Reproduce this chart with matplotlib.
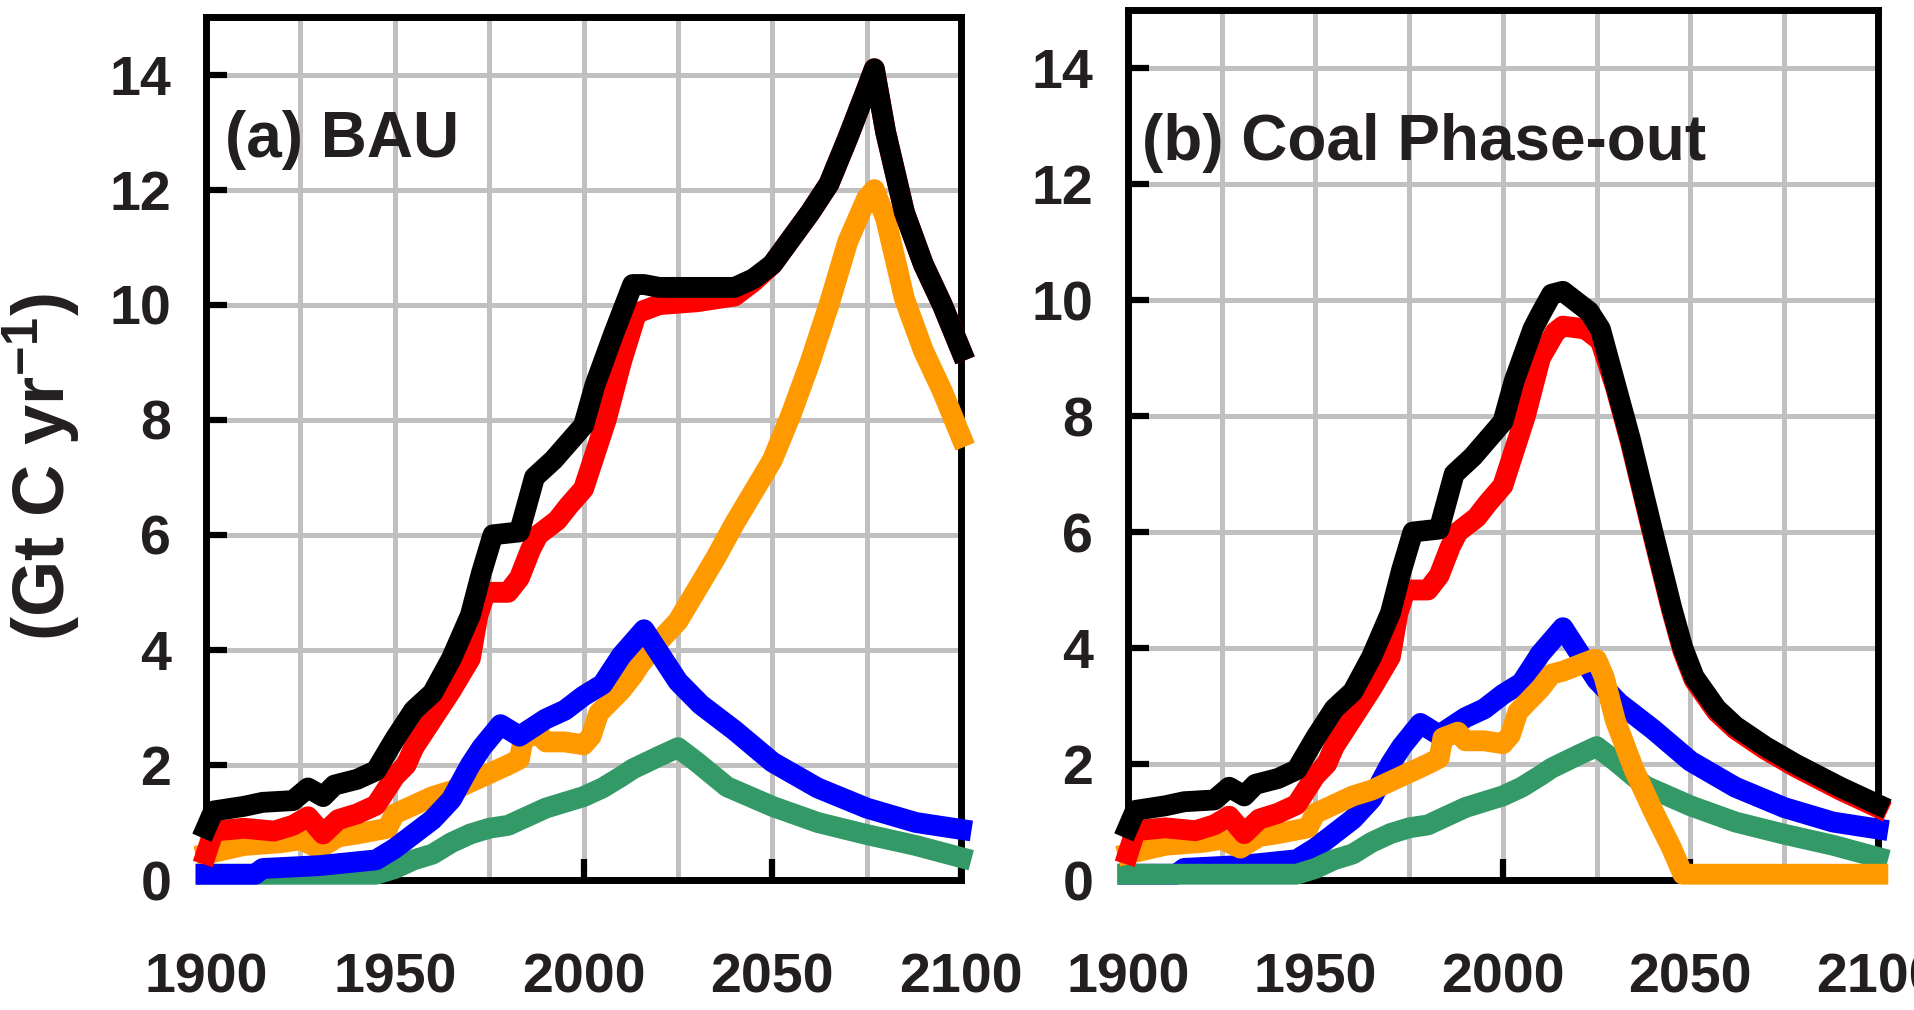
import matplotlib
matplotlib.use("Agg")
import matplotlib.pyplot as plt
from matplotlib.ticker import MultipleLocator

plt.rcParams['font.family'] = ['Liberation Sans', 'DejaVu Sans']
plt.rcParams['mathtext.fontset'] = 'custom'
plt.rcParams['mathtext.rm'] = 'Liberation Sans:bold'
plt.rcParams['mathtext.default'] = 'rm'

# ---- data (Gt C / yr) ----
# historical part, shared by both scenarios
hist_total_years = [1900, 1902, 1910, 1915, 1923, 1927, 1931, 1934, 1940, 1945, 1950, 1955,
                    1960, 1965, 1970, 1973, 1976, 1983, 1987, 1992, 1996, 2000, 2003, 2008]
hist_total = [0.9, 1.2, 1.28, 1.35, 1.38, 1.6, 1.45, 1.65, 1.75, 1.9, 2.45, 2.95,
              3.25, 3.85, 4.6, 5.35, 6.0, 6.05, 7.0, 7.3, 7.6, 7.9, 8.6, 9.5]

hist_fossil_years = [1900, 1902, 1910, 1918, 1923, 1927, 1931, 1935, 1940, 1945, 1950, 1953, 1955,
                     1960, 1965, 1970, 1972, 1974, 1980, 1983, 1986, 1988, 1993, 1996, 2000,
                     2003, 2006, 2010]
hist_fossil = [0.45, 0.85, 0.9, 0.85, 0.95, 1.1, 0.8, 1.05, 1.15, 1.3, 1.8, 2.0, 2.3,
               2.8, 3.3, 3.85, 4.6, 5.0, 5.0, 5.25, 5.75, 6.0, 6.25, 6.5, 6.8,
               7.4, 8.0, 9.0]

hist_coal_years = [1900, 1910, 1920, 1925, 1930, 1935, 1940, 1948, 1950, 1955, 1960, 1965, 1970,
                   1975, 1980, 1983, 1984, 1988, 1990, 1995, 2000, 2002, 2004, 2010, 2013]
hist_coal = [0.45, 0.6, 0.65, 0.7, 0.55, 0.75, 0.8, 0.9, 1.15, 1.3, 1.45, 1.55, 1.7,
             1.85, 2.0, 2.1, 2.45, 2.55, 2.4, 2.4, 2.35, 2.5, 2.9, 3.3, 3.55]

oil_years = [1900, 1913, 1915, 1930, 1945, 1950, 1955, 1960, 1965, 1970, 1973, 1978, 1983,
             1990, 1995, 2000, 2005, 2010, 2016, 2020, 2025, 2031, 2040, 2050, 2062, 2075,
             2088, 2100]
oil = [0.1, 0.1, 0.2, 0.25, 0.35, 0.55, 0.8, 1.05, 1.4, 2.0, 2.3, 2.7, 2.5,
       2.8, 2.95, 3.2, 3.4, 3.9, 4.35, 3.95, 3.45, 3.05, 2.6, 2.05, 1.6, 1.25,
       1.0, 0.88]

gas_years = [1900, 1945, 1950, 1955, 1960, 1965, 1970, 1975, 1980, 1985, 1990, 1995, 2000,
             2005, 2010, 2013, 2020, 2025, 2030, 2038, 2050, 2062, 2075, 2088, 2100]
gas = [0.1, 0.1, 0.2, 0.35, 0.45, 0.65, 0.8, 0.9, 0.95, 1.1, 1.25, 1.35, 1.45,
       1.6, 1.8, 1.93, 2.15, 2.3, 2.05, 1.62, 1.28, 1.0, 0.79, 0.6, 0.39]

# (a) BAU projections
bau_total_years = [2013, 2016, 2020, 2030, 2040, 2045, 2050, 2055, 2060, 2065, 2070, 2075,
                   2077, 2080, 2085, 2090, 2095, 2100]
bau_total = [10.35, 10.35, 10.3, 10.3, 10.3, 10.45, 10.7, 11.15, 11.6, 12.1, 12.9, 13.75,
             14.1, 13.0, 11.6, 10.7, 10.0, 9.2]
bau_fossil_years = [2014, 2020, 2030, 2040, 2045, 2050, 2055, 2060, 2065, 2070, 2075,
                    2077, 2080, 2085, 2090, 2095, 2100]
bau_fossil = [9.85, 10.0, 10.05, 10.15, 10.4, 10.7, 11.15, 11.6, 12.1, 12.9, 13.75,
              14.1, 13.0, 11.6, 10.7, 10.0, 9.2]
bau_coal_years = [2015, 2020, 2025, 2030, 2035, 2040, 2045, 2050, 2055, 2060, 2065, 2070,
                  2075, 2077, 2080, 2085, 2090, 2095, 2100]
bau_coal = [3.75, 4.15, 4.5, 5.05, 5.6, 6.2, 6.75, 7.3, 8.1, 9.0, 10.0, 11.1,
            11.85, 12.0, 11.5, 10.1, 9.2, 8.5, 7.7]

# (b) coal phase-out projections
cpo_total_years = [2010, 2013, 2016, 2020, 2023, 2026, 2030, 2034, 2040, 2045, 2048, 2051,
                   2057, 2062, 2070, 2078, 2090, 2100]
cpo_total = [9.75, 10.1, 10.15, 9.95, 9.8, 9.5, 8.55, 7.6, 6.0, 4.7, 4.0, 3.5,
             2.95, 2.65, 2.3, 2.0, 1.6, 1.3]
cpo_fossil_years = [2014, 2016, 2022, 2024, 2026, 2030, 2034, 2040, 2045, 2048, 2051,
                    2057, 2062, 2070, 2078, 2090, 2100]
cpo_fossil = [9.45, 9.55, 9.5, 9.4, 9.3, 8.5, 7.55, 5.95, 4.65, 3.95, 3.45,
              2.9, 2.6, 2.25, 1.95, 1.55, 1.25]
cpo_coal_years = [2016, 2020, 2024, 2025, 2027, 2030, 2035, 2040, 2045, 2048, 2100]
cpo_coal = [3.6, 3.7, 3.8, 3.8, 3.5, 2.75, 1.9, 1.2, 0.55, 0.1, 0.1]

# colours
c_total, c_fossil, c_coal, c_oil, c_gas = '#000000', '#ff0000', '#ff9900', '#0000ff', '#339966'
txt_col = '#231f20'
LW = 15


def draw_panel(ax, total, fossil, coal, label, label_x, label_y, gas_on_top=False):
    kw = dict(lw=LW, clip_on=False, zorder=3)
    if gas_on_top:
        ax.plot(oil_years, oil, color=c_oil, **kw)
        ax.plot(gas_years, gas, color=c_gas, **kw)
        ax.plot(coal[0], coal[1], color=c_coal, **kw)
    else:
        ax.plot(gas_years, gas, color=c_gas, **kw)
        ax.plot(coal[0], coal[1], color=c_coal, **kw)
        ax.plot(oil_years, oil, color=c_oil, **kw)
    ax.plot(fossil[0], fossil[1], color=c_fossil, **kw)
    ax.plot(total[0], total[1], color=c_total, **kw)

    ax.set_xlim(1900, 2100)
    ax.set_ylim(0, 15)
    ax.xaxis.set_major_locator(MultipleLocator(50))
    ax.xaxis.set_minor_locator(MultipleLocator(25))
    ax.yaxis.set_major_locator(MultipleLocator(2))
    ax.grid(True, axis='x', which='both', color='#c0c0c0', lw=3.6)
    ax.grid(True, axis='y', which='major', color='#c0c0c0', lw=3.6)
    ax.set_axisbelow(True)
    ax.tick_params(which='major', direction='in', length=15, width=4.5, color='black',
                   labelsize=40, labelcolor=txt_col, top=False, right=False)
    ax.tick_params(axis='x', which='major', pad=52)
    ax.tick_params(axis='y', which='major', pad=25)
    ax.tick_params(which='minor', length=0)
    for lab in ax.get_xticklabels() + ax.get_yticklabels():
        lab.set_fontweight('bold')
    for sp in ax.spines.values():
        sp.set_linewidth(5)
    ax.text(label_x, label_y, label, transform=ax.transAxes, fontsize=46, fontweight='bold',
            color=txt_col, ha='left', va='baseline', zorder=5)


fig = plt.figure(figsize=(19.15, 10.10), dpi=100)
ax_a = fig.add_axes([0.1076, 0.1287, 0.3943, 0.8545])
ax_b = fig.add_axes([0.5890, 0.1287, 0.3916, 0.8614])

draw_panel(ax_a,
           (hist_total_years + bau_total_years, hist_total + bau_total),
           (hist_fossil_years + bau_fossil_years, hist_fossil + bau_fossil),
           (hist_coal_years + bau_coal_years, hist_coal + bau_coal),
           '(a) BAU', 0.025, 0.838)
draw_panel(ax_b,
           (hist_total_years + cpo_total_years, hist_total + cpo_total),
           (hist_fossil_years + cpo_fossil_years, hist_fossil + cpo_fossil),
           (hist_coal_years + cpo_coal_years, hist_coal + cpo_coal),
           '(b) Coal Phase-out', 0.019, 0.828, gas_on_top=True)

fig.text(0.022, 0.537, '(Gt C yr$^{-1}$)', rotation=90, ha='center', va='center',
         fontsize=52, fontweight='bold', color=txt_col)

fig.savefig('out.png', dpi=100)
